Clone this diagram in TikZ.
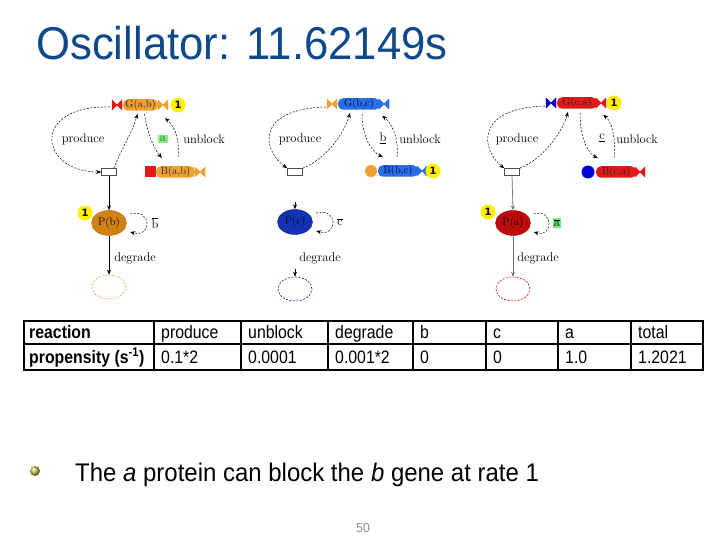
\documentclass[tikz,border=0pt]{standalone}
\usepackage{fontspec}
\usetikzlibrary{arrows.meta,shapes.geometric,calc}
\newfontfamily\titlefont[FakeStretch=0.95]{Liberation Sans}
\newfontfamily\tabfont[FakeStretch=0.88]{Liberation Sans}
\newfontfamily\bulfont[FakeStretch=0.94]{Liberation Sans}
\newfontfamily\onefont{DejaVu Sans}
\definecolor{titleblue}{RGB}{16,72,140}
\definecolor{orgc}{RGB}{240,160,50}
\definecolor{porg}{RGB}{210,130,20}
\definecolor{redc}{RGB}{225,25,25}
\definecolor{pred}{RGB}{190,10,10}
\definecolor{bluc}{RGB}{40,110,230}
\definecolor{pblue}{RGB}{20,50,180}
\definecolor{ylw}{RGB}{255,240,0}
\definecolor{grn}{RGB}{140,230,140}
\definecolor{bulc}{RGB}{205,195,80}
\tikzset{
  bowtie/.pic={\path[pic actions] (-5,-5) -- (0,0) -- (-5,5) -- cycle (5,-5) -- (0,0) -- (5,5) -- cycle;},
  lbl/.style={font=\fontsize{12.5}{13}\selectfont, inner sep=1pt},
  chain/.style={rounded corners=5pt, inner xsep=2pt, inner ysep=0.5pt, minimum height=11pt, text=black!85, font=\fontsize{10.5}{11}\selectfont},
  gene/.style={inner sep=0pt, minimum height=11pt},
  one/.style={circle, fill=ylw, inner sep=0pt, minimum size=15pt, font=\onefont\bfseries\fontsize{10}{10}\selectfont},
  trans/.style={draw=black!70, fill=white, minimum width=15pt, minimum height=7pt, inner sep=0pt, line width=0.6pt},
  dsh/.style={dash pattern=on 2pt off 1.5pt, line width=0.5pt, -{Stealth[length=5pt,width=4pt]}},
  sol/.style={line width=0.7pt, -{Stealth[length=5pt,width=4pt]}},
  prot/.style={ellipse, minimum width=35pt, minimum height=25pt, inner sep=0pt, font=\fontsize{11}{11}\selectfont},
  ghost/.style={ellipse, dash pattern=on 2pt off 1.5pt, line width=0.6pt, minimum width=34pt, minimum height=24pt, inner sep=0pt},
  tcell/.style={anchor=base west, inner sep=0pt, font=\tabfont\fontsize{18}{18}\selectfont},
}
\begin{document}
\begin{tikzpicture}[x=1pt,y=-1pt]
\useasboundingbox (0,0) rectangle (720,540);
\fill[white] (0,0) rectangle (720,540);

% title
\node[anchor=base west, inner sep=0pt, text=titleblue, font=\titlefont\fontsize{46}{46}\selectfont] (title) at (36,60) {Oscillator: 11.62149s};

% ---------- diagram 1 ----------
\node[gene, minimum width=57pt] (G1) at (139.5,105) {};
\pic[fill=redc,draw=redc] at (117,105) {bowtie};
\node[chain, fill=orgc, minimum width=35pt] (G1c) at (140.5,105) {G(a,b)};
\pic[fill=orgc,draw=orgc] at (163,105) {bowtie};
\node[one] (Y1) at (178,105) {1};
\node[trans] (T1) at (109,172) {};
\node[fill=redc, minimum size=11pt, inner sep=0pt] (R1) at (150.5,172) {};
\node[chain, fill=orgc, minimum width=39pt] (B1) at (175.5,172) {B(a,b)};
\pic[fill=orgc,draw=orgc] at (200,172) {bowtie};
\node[prot, fill=porg, draw=porg!80!black] (P1) at (109,223) {P(b)};
\node[one] (Y1p) at (85,213) {1};
\node[ghost, draw=orgc] (D1) at (109,287) {};

\draw[dsh] ($(G1.west)+(-1,2)$) .. controls +(-80,-2) and +(-62,0) .. (T1.west);
\draw[dsh] ($(T1.north east)+(-3,0)$) .. controls +(8,-20) and +(-5,18) .. ($(G1c.south)+(-3,3)$);
\draw[dsh] ($(G1c.south)+(4,3)$) .. controls +(3,20) and +(-8,-10) .. ($(B1.north west)+(6,-8)$);
\draw[dsh] ($(B1.north)+(2.5,-9)$) .. controls +(2,-22) and +(8,8) .. ($(G1c.south east)+(7,7)$);
\draw[sol] (T1.south) -- (P1.north);
\draw[dsh] ($(P1.east)+(3.5,-9)$) .. controls +(22,-6) and +(22,6) .. ($(P1.east)+(3.5,9)$);
\draw[sol] (P1.south) -- (D1.north);
\node[lbl] (L1p) at (83,139) {produce};
\node[lbl] (L1u) at (204,139) {unblock};
\node[fill=grn, text=green!50!black, inner sep=1.5pt, font=\fontsize{12.5}{13}\selectfont] (L1a) at (163,139) {a};
\node[lbl] (L1b) at (155,223) {$\overline{\mathrm{b}}$};
\node[lbl] (L1d) at (135,258) {degrade};

% ---------- diagram 2 ----------
\node[gene, minimum width=63pt] (G2) at (358.5,104) {};
\pic[fill=orgc,draw=orgc] at (332,104) {bowtie};
\node[chain, fill=bluc, minimum width=42pt, text=blue!30!black] (G2c) at (359,104) {G(b,c)};
\pic[fill=bluc,draw=bluc] at (384,104) {bowtie};
\node[trans] (T2) at (295,172) {};
\node[circle, fill=orgc, minimum size=12pt, inner sep=0pt] (R2) at (371,171) {};
\node[chain, fill=bluc, minimum width=40pt, text=blue!30!black] (B2c) at (398,171) {B(b,c)};
\pic[fill=bluc,draw=bluc] at (422,171) {bowtie};
\node[one] (Y2) at (433,171) {1};
\node[prot, fill=pblue, draw=pblue!70!black, text=blue!20!black] (P2) at (295,222) {P(c)};
\node[ghost, draw=blue!70!black] (D2) at (295,289) {};
\coordinate (P2in) at (295,202);
\coordinate (D2in) at (295,269);

\draw[dsh] ($(G2.west)+(-1,3)$) .. controls +(-70,2) and +(-25.5,-18.5) .. (T2.north west);
\draw[dsh] (T2.north east) .. controls +(25,-10) and +(-5,18) .. ($(G2c.south)+(-9,3)$);
\draw[dsh] ($(G2c.south)+(3,4)$) .. controls +(0,25) and +(-10,-5) .. ($(B2c.north west)+(5,-8)$);
\draw[dsh] ($(B2c.north)+(-1,-8)$) .. controls +(2,-22) and +(8,6) .. ($(G2c.south east)+(2,6)$);
\draw[sol] (P2in) -- (P2.north);
\draw[dsh] ($(P2.east)+(3.5,-9)$) .. controls +(22,-6) and +(22,6) .. ($(P2.east)+(3.5,9)$);
\draw[sol] (D2in) -- (D2.north);
\node[lbl] (L2p) at (300,139) {produce};
\node[lbl] (L2u) at (420,139) {unblock};
\node[lbl] (L2b) at (383,138) {\underline{b}};
\node[lbl] (L2c) at (340,222) {$\overline{\mathrm{c}}$};
\node[lbl] (L2d) at (320,258) {degrade};

% ---------- diagram 3 ----------
\node[gene, minimum width=60pt] (G3) at (576,103) {};
\pic[fill=blue!80!black,draw=blue!80!black] at (551,103) {bowtie};
\node[chain, fill=redc, minimum width=40pt] (G3c) at (577,103) {G(c,a)};
\pic[fill=redc,draw=redc] at (601,103) {bowtie};
\node[one] (Y3) at (614,103) {1};
\node[trans] (T3) at (512,172) {};
\node[circle, fill=blue!85!black, minimum size=13pt, inner sep=0pt] (R3) at (588,172) {};
\node[chain, fill=redc, minimum width=40pt] (B3c) at (616,172) {B(c,a)};
\pic[fill=redc,draw=redc] at (640,172) {bowtie};
\node[prot, fill=pred, draw=pred!80!black] (P3) at (513,223) {P(a)};
\node[one] (Y3p) at (488,212) {1};
\node[ghost, draw=pred] (D3) at (513,289) {};

\draw[dsh] ($(G3.west)+(-1,3)$) .. controls +(-70,2) and +(-23.5,-18.5) .. (T3.north west);
\draw[dsh] (T3.north east) .. controls +(25,-10) and +(-5,18) .. ($(G3c.south)+(-9,3)$);
\draw[dsh] ($(G3c.south)+(3,4)$) .. controls +(0,25) and +(-10,-5) .. ($(B3c.north west)+(2,-8)$);
\draw[dsh] ($(B3c.north)+(-2,-8)$) .. controls +(2,-22) and +(8,6) .. ($(G3c.south east)+(6,6)$);
\draw[sol, draw=black!55, fill=black!55] (T3.south) -- (P3.north);
\draw[dsh] ($(P3.east)+(3,-9)$) .. controls +(20,-6) and +(20,6) .. ($(P3.east)+(3,9)$);
\draw[sol, draw=black!55, fill=black!55] (P3.south) -- (D3.north);
\node[lbl] (L3p) at (517,139) {produce};
\node[lbl] (L3u) at (637,139) {unblock};
\node[lbl] (L3c) at (602,138) {\underline{c}};
\node[fill=grn!85!green, inner sep=1pt, font=\fontsize{12.5}{13}\selectfont] (L3a) at (557,223) {$\overline{\mathrm{a}}$};
\node[lbl] (L3d) at (538,258) {degrade};

% ---------- table ----------
\foreach \xx in {154,241,328,413,486,558,631} \draw[line width=1.3pt] (\xx,321) -- (\xx,370);
\draw[line width=1.3pt] (24,344) -- (703,344);
\draw[line width=2.5pt] (24,321) rectangle (703,370);
\node[tcell] (h0) at (29,338) {\bfseries reaction};
\node[tcell] (h1) at (161,338) {produce};
\node[tcell] (h2) at (248,338) {unblock};
\node[tcell] (h3) at (335,338) {degrade};
\node[tcell] (h4) at (420,338) {b};
\node[tcell] (h5) at (493,338) {c};
\node[tcell] (h6) at (565,338) {a};
\node[tcell] (h7) at (638,338) {total};
\node[tcell] (v0) at (29,363) {\bfseries propensity (s\textsuperscript{-1})};
\node[tcell] (v1) at (161,363) {0.1*2};
\node[tcell] (v2) at (248,363) {0.0001};
\node[tcell] (v3) at (335,363) {0.001*2};
\node[tcell] (v4) at (420,363) {0};
\node[tcell] (v5) at (493,363) {0};
\node[tcell] (v6) at (565,363) {1.0};
\node[tcell] (v7) at (638,363) {1.2021};

% ---------- bullet ----------
\node[circle, ball color=bulc, minimum size=10pt, inner sep=0pt] (bul) at (35,471) {};
\node[anchor=base west, inner sep=0pt, font=\bulfont\fontsize{25.5}{26}\selectfont] (btxt) at (75,481) {The \textit{a} protein can block the \textit{b} gene at rate 1};
\node[font=\bulfont\fontsize{13}{13}\selectfont, text=black!45] (pg) at (363,528) {50};
\end{tikzpicture}
\end{document}
